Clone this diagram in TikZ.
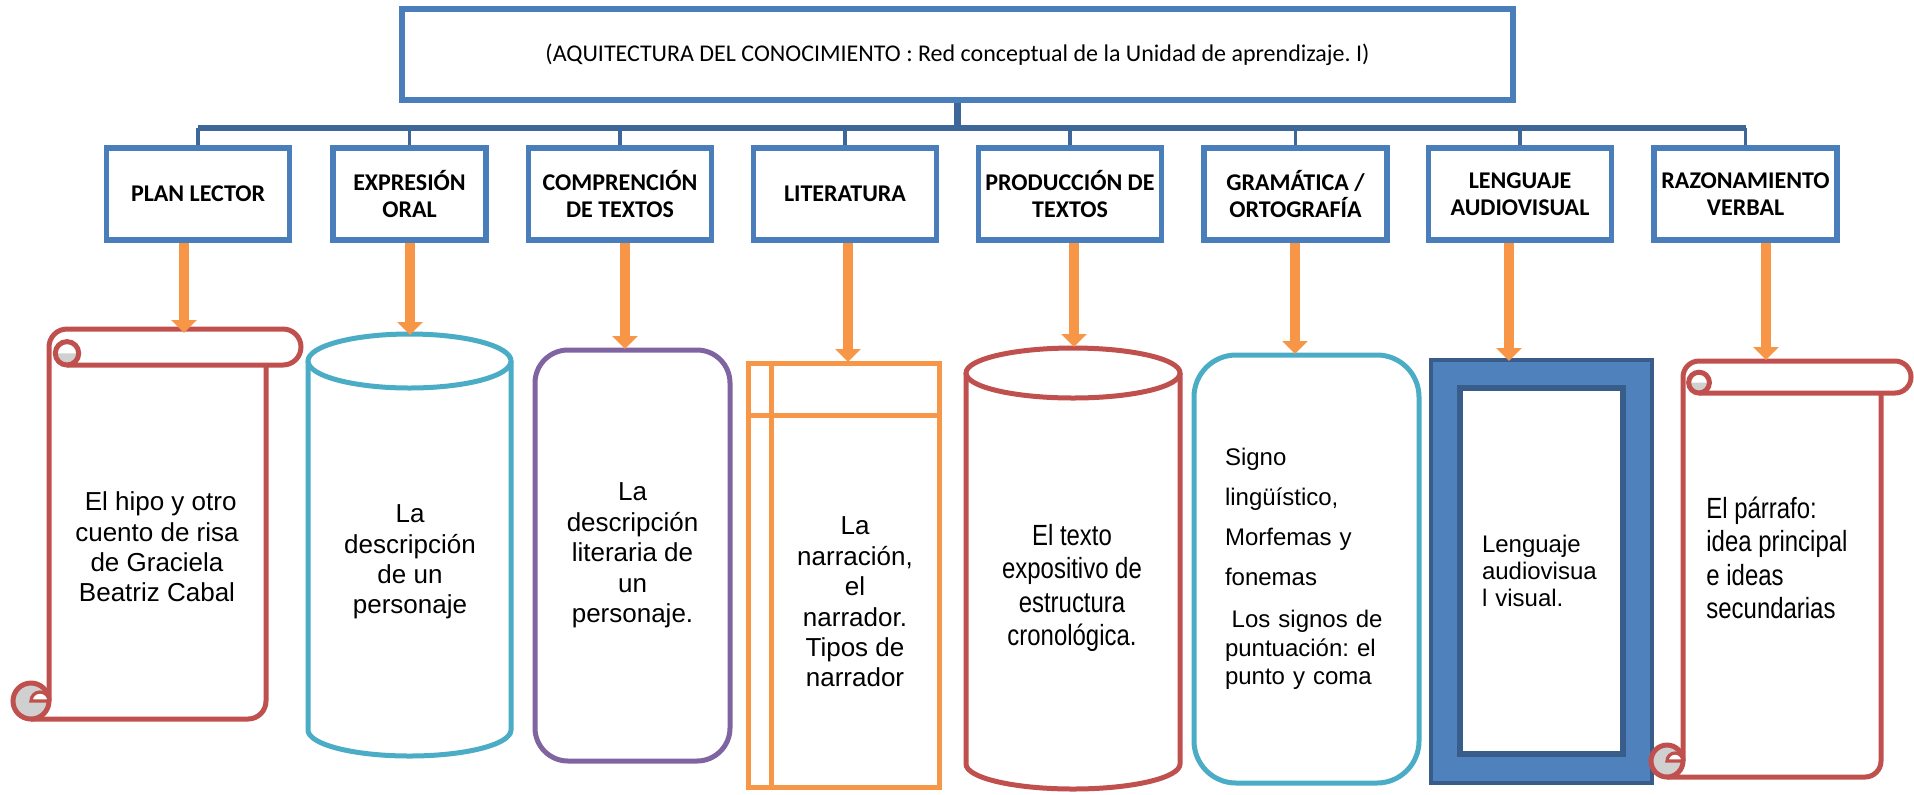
\documentclass[tikz,border=0pt]{standalone}
\usepackage{fontspec}
\setmainfont{Liberation Sans}
\newfontfamily\calfont{Carlito}
\newfontfamily\narrowfont[FakeStretch=0.82]{Liberation Sans}
\usepackage{tikz}
\usetikzlibrary{arrows.meta}
\frenchspacing
\definecolor{boxblue}{HTML}{4A7EBB}
\definecolor{treeblue}{HTML}{3D6699}
\definecolor{scrollred}{HTML}{C0504D}
\definecolor{drumcyan}{HTML}{4BACC6}
\definecolor{lilac}{HTML}{8064A2}
\definecolor{arrorange}{HTML}{F79646}
\definecolor{framefill}{HTML}{4F81BD}
\definecolor{framedark}{HTML}{385D8A}
\definecolor{curlgray}{HTML}{D0D0D0}
\tikzset{
  topbox/.style={draw=boxblue,line width=2.8pt,minimum width=555.5pt,minimum height=45.5pt,
    font=\calfont\fontsize{12}{14}\selectfont},
  catbox/.style={draw=boxblue,line width=2.8pt,inner sep=1pt,minimum width=91.5pt,minimum height=46pt,
    align=center,font=\calfont\bfseries\fontsize{12}{13.5}\selectfont},
  trunk/.style={treeblue,line width=3.2pt},
  twig/.style={treeblue,line width=1.8pt},
  feed/.style={arrorange,line width=5pt,-{Triangle[width=12.5pt,length=6.5pt]}},
  body/.style={inner sep=0pt,align=center,font=\fontsize{13}{15.2}\selectfont},
  slim/.style={font=\narrowfont\fontsize{14.6}{16.75}\selectfont}
}
% vertical scroll: left, top, right, bottom, roll end, roll radius
\newcommand\scrollshape[6]{%
  \begin{scope}[scrollred,line width=2.5pt]
    \draw (#1,{-#4+#6}) -- (#1,{-#2-#6}) arc[start angle=180,end angle=90,radius=#6]
      -- ({#5-#6},-#2) arc[start angle=90,end angle=-90,radius=#6] -- ({#1+#6},{-#2-2*#6});
    \draw (#3,{-#2-2*#6}) -- (#3,{-#4+#6}) arc[start angle=0,end angle=-90,radius=#6] -- ({#1-#6},-#4);
    \filldraw[fill=curlgray] ({#1-#6},{-#4+#6}) circle[radius=#6];
    \filldraw[fill=white,line width=1.6pt] ({#1-#6},{-#4+#6}) arc[start angle=180,end angle=0,radius=#6/2] -- cycle;
    \fill[curlgray] ({#1+0.35*#6},{-#2-1.35*#6}) arc[start angle=180,end angle=360,radius=0.65*#6] -- cycle;
    \draw ({#1+#6},{-#2-1.35*#6}) circle[radius=0.65*#6];
  \end{scope}}

\begin{document}
\begin{tikzpicture}[x=0.5pt,y=0.5pt]
  \useasboundingbox (0,0) rectangle (1914,-794);
  % title and topics
  \node[topbox] (top) at (957.5,-54.5) {(AQUITECTURA DEL CONOCIMIENTO : Red conceptual de la Unidad de aprendizaje. I)};
  \node[catbox] (c1) at (198,-194) {PLAN LECTOR};
  \node[catbox,minimum width=76.5pt] (c2) at (409.5,-194) {EXPRESIÓN\\ORAL};
  \node[catbox] (c3) at (620,-194) {COMPRENCIÓN\\DE TEXTOS};
  \node[catbox] (c4) at (845,-194) {LITERATURA};
  \node[catbox] (c5) at (1070,-194) {PRODUCCIÓN DE\\TEXTOS};
  \node[catbox] (c6) at (1295.5,-194) {GRAMÁTICA /\\ORTOGRAFÍA};
  \node[catbox] (c7) at (1520,-194) {LENGUAJE\\AUDIOVISUAL};
  \node[catbox] (c8) at (1745.5,-194) {RAZONAMIENTO\\VERBAL};
  \coordinate (hub) at (957.5,-128);
  \draw[trunk] (top.south) -- (hub);
  \draw[trunk] (c1.north |- hub) -- (c8.north |- hub);
  \foreach \n in {1,...,8}
    \draw[twig] (c\n.north) -- (c\n.north |- hub);

  % 1 scroll
  \scrollshape{49}{329}{266}{719}{301}{18}
  \node[body] (s1) at (157,-547) {\hspace*{.28em}El hipo y otro\\cuento de risa\\de Graciela\\Beatriz Cabal};
  % 2 drum
  \draw[drumcyan,line width=2.5pt] (308,-361) -- (308,-730) arc[start angle=180,end angle=360,x radius=101.5,y radius=26] -- (511,-361);
  \draw[drumcyan,line width=2.5pt] (409.5,-361) ellipse[x radius=101.5,y radius=27];
  \node[body] (s2) at (410,-562) {La\\descripción\\de un\\personaje};
  % 3 rounded box
  \node[body,draw=lilac,line width=2.5pt,rounded corners=16.5pt,minimum width=97.5pt,minimum height=205.5pt] (s3) at (632.5,-555.5) {La\\descripción\\literaria de\\un\\personaje.};
  % 4 storage box
  \draw[arrorange,line width=2.5pt] (748,-363) rectangle (939,-787) (771,-363) -- (771,-787) (748,-415) -- (939,-415);
  \node[body] (s4) at (855,-602) {La\\narración,\\el\\narrador.\\Tipos de\\narrador};
  % 5 drum
  \draw[scrollred,line width=2.5pt] (966,-373) -- (966,-764) arc[start angle=180,end angle=360,x radius=107,y radius=25] -- (1180,-373);
  \draw[scrollred,line width=2.5pt] (1073,-373) ellipse[x radius=107,y radius=25];
  \node[body,slim] (s5) at (1072,-588) {El texto\\expositivo de\\estructura\\cronológica.};
  % 6 rounded box
  \node[draw=drumcyan,line width=2.5pt,rounded corners=21pt,minimum width=112.5pt,minimum height=214pt,
    text width=81.5pt,align=left,font=\fontsize{12}{14.2}\selectfont] (s6) at (1306.5,-569)
    {Signo\\[5.8pt]lingüístico,\\[5.8pt]Morfemas y\\[5.8pt]fonemas\\[6.8pt]\hspace*{.28em}Los signos de\\puntuación: el\\punto y coma};
  % 7 frame
  \draw[framedark,fill=framefill,line width=2.2pt] (1431,-360) rectangle (1652,-783);
  \node[draw=framedark,fill=white,line width=2.8pt,minimum width=81.5pt,minimum height=183pt,
    text width=59.5pt,align=left,font=\fontsize{12}{13.5}\selectfont] (s7) at (1541.5,-571) {Lenguaje\\audiovisua\\l visual.};
  % 8 scroll
  \scrollshape{1683}{361}{1881}{777}{1911}{16}
  \node[body,slim,anchor=west,align=left] (s8) at (1706,-558) {El párrafo:\\idea principal\\e ideas\\secundarias};

  % arrows down to the shapes
  \foreach \n/\x/\y in {1/184/333,2/410/335,3/625/349,4/848/362,5/1074/347,6/1295/354,7/1509/361,8/1766/360}
    \coordinate (tip\n) at (\x,-\y);
  \foreach \n in {1,...,8}
    \draw[feed] (tip\n |- c\n.south) -- (tip\n);
\end{tikzpicture}
\end{document}
